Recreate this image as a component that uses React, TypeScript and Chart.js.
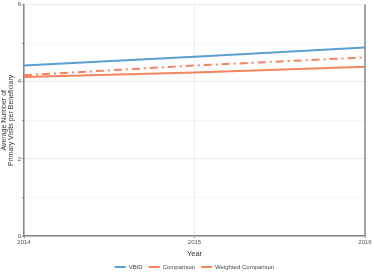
import React, { useEffect, useRef } from "react";
import { Chart, registerables } from "chart.js";
Chart.register(...registerables);

const years = [2014, 2015, 2016];
const vbid = [4.42, 4.65, 4.89];
const comparison = [4.12, 4.24, 4.39];
const weighted = [4.17, 4.42, 4.63];
const yTicks = [0, 2, 4, 6];

const BLUE = "#5b9fd0";
const ORANGE = "#f2855e";

export default function App() {
  const ref = useRef<HTMLCanvasElement>(null);
  useEffect(() => {
    const ctx = ref.current!;
    const font = "'Liberation Sans', Arial, sans-serif";
    const chart = new Chart(ctx, {
      type: "line",
      data: {
        datasets: [
          { label: "VBID", data: years.map((x, i) => ({ x, y: vbid[i] })), borderColor: BLUE, backgroundColor: BLUE, borderWidth: 2, pointRadius: 0 },
          { label: "Comparison", data: years.map((x, i) => ({ x, y: comparison[i] })), borderColor: ORANGE, backgroundColor: ORANGE, borderWidth: 2, pointRadius: 0 },
          { label: "Weighted Comparison", data: years.map((x, i) => ({ x, y: weighted[i] })), borderColor: ORANGE, backgroundColor: ORANGE, borderWidth: 2, borderDash: [8, 4, 2, 4], pointRadius: 0 },
        ],
      },
      options: {
        animation: false,
        responsive: true,
        maintainAspectRatio: false,
        layout: { padding: { top: 4, right: 9, bottom: 0, left: 0 } },
        plugins: {
          tooltip: { enabled: false },
          legend: {
            position: "bottom",
            fullSize: false,
            labels: {
              font: { family: font, size: 6 },
              color: "#444",
              boxWidth: 11,
              boxHeight: 2,
              padding: 6,
              generateLabels: (c: any) =>
                c.data.datasets.map((d: any, i: number) => ({
                  text: d.label,
                  fillStyle: d.borderColor,
                  strokeStyle: d.borderColor,
                  lineWidth: 0,
                  lineDash: d.borderDash || [],
                  hidden: false,
                  datasetIndex: i,
                  fontColor: "#444",
                })),
            },
          },
        },
        scales: {
          x: {
            type: "linear",
            min: 2014,
            max: 2016,
            ticks: { stepSize: 1, callback: (v: any) => String(v), font: { family: font, size: 6 }, color: "#555", padding: 1, maxRotation: 0 },
            grid: { color: "#ebebeb", lineWidth: 1, tickLength: 2, tickColor: "#888" },
            border: { color: "#888", width: 1.5 },
            title: { display: true, text: "Year", font: { family: font, size: 7.5 }, color: "#333", padding: { top: 2, bottom: 0 } },
            afterFit: (s: any) => { s.height = 22; },
          },
          y: {
            min: 0,
            max: 6,
            afterBuildTicks: (s: any) => { s.ticks = [0, 1, 2, 3, 4, 5, 6].map((v) => ({ value: v })); },
            ticks: {
              callback: (v: any) => (yTicks.includes(v) ? String(v) : ""),
              font: { family: font, size: 6 },
              color: "#555",
              padding: 1,
            },
            grid: { color: (c: any) => (c.tick && yTicks.includes(c.tick.value) ? "#ebebeb" : "#f5f5f5"), lineWidth: 1, tickLength: 2, tickColor: "#888" },
            border: { color: "#888", width: 1.5 },
            title: { display: true, text: ["Average Number of", "Primary Visits per Beneficiary"], font: { family: font, size: 7, lineHeight: 1.05 }, color: "#333", padding: 0 },
            afterFit: (s: any) => { s.width = 24; },
          },
        },
      },
      plugins: [
        {
          id: "rightBorder",
          afterDatasetsDraw: (c: any) => {
            const { ctx: g, chartArea: a } = c;
            g.save();
            g.strokeStyle = "#888";
            g.lineWidth = 1.5;
            g.beginPath();
            g.moveTo(a.right, a.top);
            g.lineTo(a.right, a.bottom);
            g.stroke();
            g.restore();
          },
        },
      ],
    } as any);
    return () => chart.destroy();
  }, []);
  return (
    <div style={{ position: "absolute", left: 0, top: 0, width: 374, height: 280 }}>
      <canvas ref={ref} />
    </div>
  );
}
